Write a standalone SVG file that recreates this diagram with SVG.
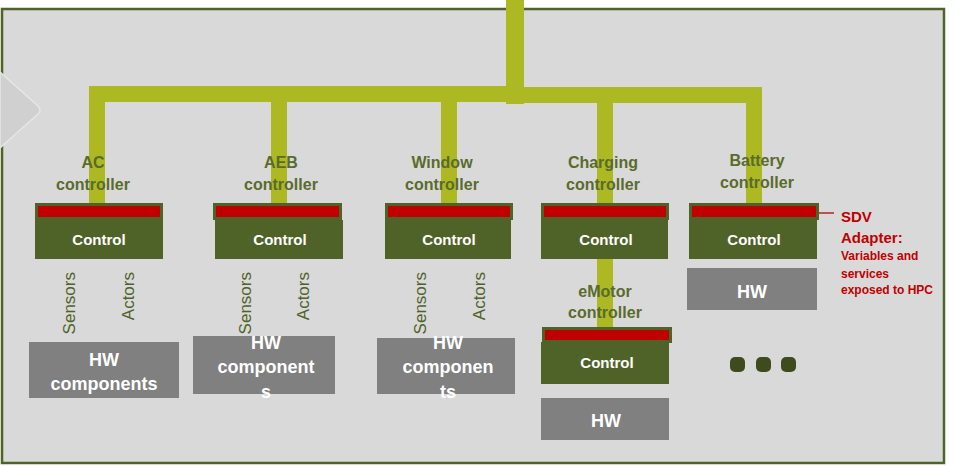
<svg xmlns="http://www.w3.org/2000/svg" width="961" height="466" viewBox="0 0 961 466">
  <style>
    .lbl { font-family: "Liberation Sans", Arial, sans-serif; font-size: 16px; font-weight: bold; fill: #5a6b2c; text-anchor: middle; }
    .io { font-family: "Liberation Sans", Arial, sans-serif; font-size: 17px; fill: #4f6228; text-anchor: end; }
    .ctl { fill: #4f6228; }
    .ctltxt { font-family: "Liberation Sans", Arial, sans-serif; font-size: 15px; font-weight: bold; fill: #ffffff; text-anchor: middle; }
    .hdr { fill: #c00000; stroke: #4f6228; stroke-width: 3; }
    .hw { fill: #808080; }
    .hwtxt { font-family: "Liberation Sans", Arial, sans-serif; font-size: 18px; font-weight: bold; fill: #ffffff; text-anchor: middle; }
    .bus { fill: #adb922; }
    .sdv { font-family: "Liberation Sans", Arial, sans-serif; font-weight: bold; fill: #c00000; }
    .dot { fill: #3f4b1c; }
  </style>

  <!-- vehicle frame -->
  <rect x="2" y="9" width="942" height="454" fill="#d9d9d9" stroke="#4f6228" stroke-width="2.5"/>
  <!-- entry chevron on the left edge -->
  <path d="M0 72 L38 106 Q42 110 38 114 L0 148 Z" fill="#d0d0d0" stroke="#e6e6e6" stroke-width="1.5" stroke-linejoin="round"/>

  <!-- bus connectors -->
  <g id="bus">
    <rect class="bus" x="506" y="0" width="18" height="104"/>
    <rect class="bus" x="89" y="86" width="435" height="16"/>
    <rect class="bus" x="506" y="87" width="256" height="16"/>
    <rect class="bus" x="89" y="86" width="16" height="118"/>
    <rect class="bus" x="271" y="86" width="16" height="118"/>
    <rect class="bus" x="441" y="86" width="16" height="118"/>
    <rect class="bus" x="597" y="87" width="16" height="117"/>
    <rect class="bus" x="746" y="87" width="16" height="117"/>
    <rect class="bus" x="597" y="259" width="16" height="69"/>
    <line x1="819" y1="213" x2="834" y2="213" stroke="#c0504d" stroke-width="2"/>
  </g>

  <!-- AC controller -->
  <g id="ac">
    <text class="lbl" x="93" y="168">AC</text>
    <text class="lbl" x="93" y="190">controller</text>
    <rect class="ctl" x="35" y="220" width="128" height="39"/>
    <rect class="hdr" x="36.5" y="204.5" width="125" height="14"/>
    <text class="ctltxt" x="99" y="245">Control</text>
    <text class="io" transform="translate(75 272) rotate(-90)">Sensors</text>
    <text class="io" transform="translate(134 272) rotate(-90)">Actors</text>
    <rect class="hw" x="29" y="342" width="150" height="56"/>
    <text class="hwtxt" x="104" y="366">HW</text>
    <text class="hwtxt" x="104" y="390">components</text>
  </g>

  <!-- AEB controller -->
  <g id="aeb">
    <text class="lbl" x="281" y="168">AEB</text>
    <text class="lbl" x="281" y="190">controller</text>
    <rect class="ctl" x="215" y="220" width="128" height="39"/>
    <rect class="hdr" x="214.5" y="204.5" width="126" height="14"/>
    <text class="ctltxt" x="280" y="245">Control</text>
    <text class="io" transform="translate(251 272) rotate(-90)">Sensors</text>
    <text class="io" transform="translate(309 272) rotate(-90)">Actors</text>
    <rect class="hw" x="193" y="336" width="142" height="58"/>
    <text class="hwtxt" x="266" y="349">HW</text>
    <text class="hwtxt" x="266" y="373">component</text>
    <text class="hwtxt" x="266" y="398">s</text>
  </g>

  <!-- Window controller -->
  <g id="window">
    <text class="lbl" x="442" y="168">Window</text>
    <text class="lbl" x="442" y="190">controller</text>
    <rect class="ctl" x="385" y="220" width="126" height="39"/>
    <rect class="hdr" x="386.5" y="204.5" width="125" height="14"/>
    <text class="ctltxt" x="449" y="245">Control</text>
    <text class="io" transform="translate(426 272) rotate(-90)">Sensors</text>
    <text class="io" transform="translate(485 272) rotate(-90)">Actors</text>
    <rect class="hw" x="377" y="338" width="138" height="56"/>
    <text class="hwtxt" x="448" y="349">HW</text>
    <text class="hwtxt" x="448" y="373">componen</text>
    <text class="hwtxt" x="448" y="398">ts</text>
  </g>

  <!-- Charging controller -->
  <g id="charging">
    <text class="lbl" x="603" y="168">Charging</text>
    <text class="lbl" x="603" y="190">controller</text>
    <rect class="ctl" x="541" y="220" width="127" height="39"/>
    <rect class="hdr" x="542.5" y="204.5" width="125" height="14"/>
    <text class="ctltxt" x="606" y="245">Control</text>
  </g>

  <!-- eMotor controller -->
  <g id="emotor">
    <text class="lbl" x="605" y="297">eMotor</text>
    <text class="lbl" x="605" y="318">controller</text>
    <rect class="ctl" x="541" y="342" width="128" height="42"/>
    <rect class="hdr" x="543.5" y="328.5" width="127" height="13"/>
    <text class="ctltxt" x="607" y="368">Control</text>
    <rect class="hw" x="541" y="398" width="128" height="42"/>
    <text class="hwtxt" x="606" y="427">HW</text>
  </g>

  <!-- Battery controller -->
  <g id="battery">
    <text class="lbl" x="757" y="166">Battery</text>
    <text class="lbl" x="757" y="188">controller</text>
    <rect class="ctl" x="689" y="220" width="128" height="39"/>
    <rect class="hdr" x="690.5" y="204.5" width="127" height="14"/>
    <text class="ctltxt" x="754" y="245">Control</text>
    <rect class="hw" x="687" y="268" width="130" height="42"/>
    <text class="hwtxt" x="752" y="298">HW</text>
  </g>

  <!-- SDV adapter note -->
  <g id="sdv-note">
    <text class="sdv" x="841" y="222" font-size="15">SDV</text>
    <text class="sdv" x="841" y="243" font-size="15">Adapter:</text>
    <text class="sdv" x="841" y="260" font-size="12">Variables and</text>
    <text class="sdv" x="841" y="278" font-size="12">services</text>
    <text class="sdv" x="841" y="294" font-size="12">exposed to HPC</text>
  </g>

  <!-- more controllers -->
  <g id="more">
    <rect class="dot" x="730" y="357" width="15" height="15" rx="5"/>
    <rect class="dot" x="756" y="357" width="15" height="15" rx="5"/>
    <rect class="dot" x="781" y="357" width="15" height="15" rx="5"/>
  </g>
</svg>
